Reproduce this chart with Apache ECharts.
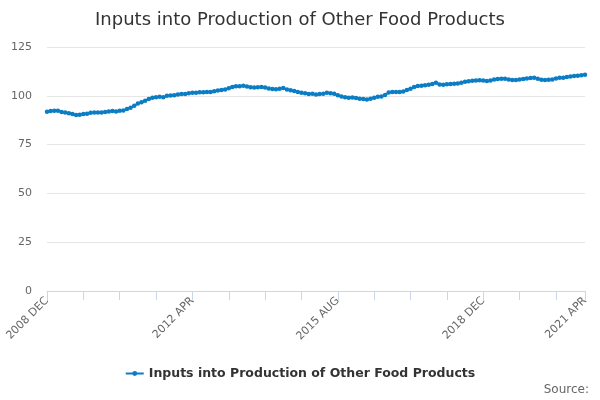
<!DOCTYPE html>
<html>

<head>
    <meta charset="utf-8">
    <title></title>
    <style>
        html, body { margin: 0; padding: 0; background: #fff; }
        #main { width: 600px; height: 400px; }
    </style>
</head>

<body>
    <div id="main"></div>
    <script src="https://cdn.jsdelivr.net/npm/echarts@6/dist/echarts.min.js" charset="utf-8"></script>
    <script>
    var seriesName = 'Inputs into Production of Other Food Products';
    var monthNames = ['JAN', 'FEB', 'MAR', 'APR', 'MAY', 'JUN', 'JUL', 'AUG', 'SEP', 'OCT', 'NOV', 'DEC'];
    // 2008 DEC .. 2021 APR, monthly
    var values = [
        91.8, 92.2, 92.4, 92.3, 91.7, 91.5, 91.1, 90.7, 90.2, 90.3,
        90.7, 90.8, 91.3, 91.5, 91.5, 91.5, 91.7, 92.0, 92.2, 92.0,
        92.3, 92.5, 93.2, 93.9, 94.9, 96.0, 96.7, 97.5, 98.3, 99.0,
        99.3, 99.5, 99.2, 100.0, 100.2, 100.3, 100.7, 100.9, 100.9, 101.3,
        101.5, 101.6, 101.8, 101.8, 101.9, 102.0, 102.3, 102.7, 103.0, 103.2,
        103.9, 104.5, 104.9, 104.9, 105.1, 104.8, 104.4, 104.3, 104.4, 104.5,
        104.2, 103.7, 103.5, 103.3, 103.6, 104.0, 103.2, 102.8, 102.5, 102.0,
        101.6, 101.3, 100.9, 101.1, 100.7, 100.9, 101.1, 101.5, 101.3, 101.0,
        100.3, 99.7, 99.3, 99.0, 99.1, 98.9, 98.5, 98.3, 98.1, 98.5,
        99.0, 99.5, 99.7, 100.4, 101.7, 102.0, 102.0, 101.9, 102.2, 103.0,
        103.6, 104.5, 105.0, 105.2, 105.4, 105.7, 106.0, 106.7, 105.8, 105.7,
        105.9, 106.0, 106.2, 106.3, 106.7, 107.2, 107.4, 107.7, 107.8, 108.0,
        107.8, 107.6, 107.9, 108.3, 108.6, 108.7, 108.7, 108.3, 108.1, 108.1,
        108.3, 108.6, 108.9, 109.1, 109.3, 108.7, 108.2, 108.1, 108.2, 108.3,
        108.9, 109.2, 109.3, 109.6, 109.9, 110.1, 110.3, 110.5, 110.8
    ];
    var startYear = 2008, startMonth = 11;
    var categories = values.map(function (v, i) {
        var m = startMonth + i;
        return (startYear + Math.floor(m / 12)) + ' ' + monthNames[m % 12];
    });
    var yTicks = [0, 25, 50, 75, 100, 125];

    var last = categories.length - 1;
    var myChart = echarts.init(document.getElementById('main'));
    var option = {
        animation: false,
        textStyle: { fontFamily: 'DejaVu Sans' },
        title: {
            text: 'Inputs into Production of Other Food Products',
            left: 'center',
            top: 6,
            textStyle: { fontSize: 18, fontWeight: 'normal', color: '#333333', fontFamily: 'DejaVu Sans' }
        },
        legend: {
            bottom: 15,
            left: 'center',
            itemWidth: 18,
            itemHeight: 6,
            itemGap: 4,
            textStyle: { fontSize: 12.5, fontWeight: 'bold', color: '#333333', fontFamily: 'DejaVu Sans' },
            data: [seriesName]
        },
        graphic: [{
            type: 'text',
            right: 11,
            bottom: 4,
            style: { text: 'Source:', fontSize: 12, fill: '#666666', fontFamily: 'DejaVu Sans' }
        }],
        grid: { left: 47, right: 15, top: 47, bottom: 109, containLabel: false },
        xAxis: {
            type: 'category',
            data: categories,
            boundaryGap: false,
            axisLine: { lineStyle: { color: '#ccd6eb' } },
            axisTick: {
                length: 9,
                lineStyle: { color: '#ccd6eb' },
                interval: function (i) { return i % 10 === 0 || i === last; }
            },
            axisLabel: {
                rotate: 45,
                color: '#666666',
                fontSize: 11,
                margin: 8,
                interval: function (i) { return i % 40 === 0 || i === last; }
            },
            splitLine: { show: false }
        },
        yAxis: {
            type: 'value',
            min: yTicks[0],
            max: yTicks[yTicks.length - 1],
            interval: 25,
            axisLine: { show: false },
            axisTick: { show: false },
            axisLabel: { color: '#666666', fontSize: 11, margin: 15 },
            splitLine: { lineStyle: { color: '#e6e6e6' } }
        },
        series: [{
            name: seriesName,
            type: 'line',
            data: values,
            symbol: 'circle',
            symbolSize: 4.5,
            showAllSymbol: true,
            itemStyle: { color: '#0a7dc5' },
            lineStyle: { width: 2, color: '#0a7dc5' }
        }]
    };
    myChart.setOption(option);
    </script>
</body>

</html>
